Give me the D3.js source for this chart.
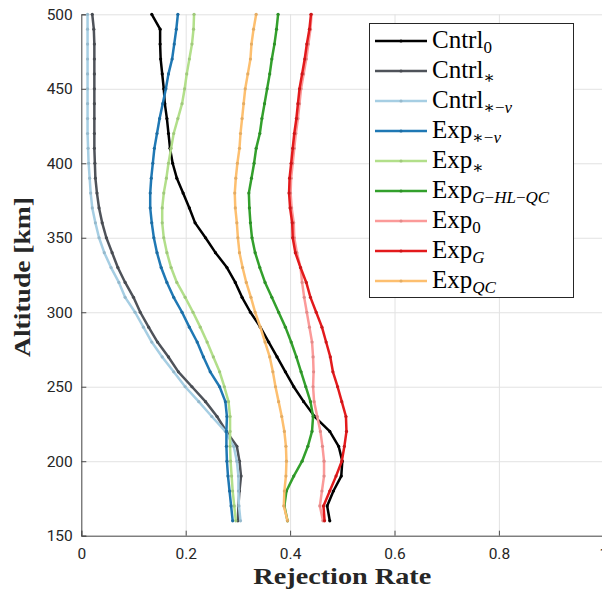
<!DOCTYPE html>
<html lang="en">
<head>
<meta charset="UTF-8">
<title>Rejection Rate vs Altitude</title>
<script src="https://d3js.org/d3.v7.min.js"></script>
<style>
  body { margin: 0; background: #fff; }
  svg { display: block; }
  .tick text { font-family: Roboto, "Liberation Sans", sans-serif; font-size: 15.5px; fill: #262626; }
  .label { font-family: "Liberation Serif", "DejaVu Serif", serif; font-weight: bold; fill: #262626; }
  .leg { font-family: "Liberation Serif", "DejaVu Serif", serif; fill: #000; }
</style>
</head>
<body>
<div id="chart"></div>
<script>
// altitudes, km (bottom to top)
const altitudes = [160, 170, 180, 190, 200, 210, 220, 230, 240, 250, 260, 270, 280, 290, 300, 310, 320,
  330, 340, 350, 360, 370, 380, 390, 400, 410, 420, 430, 440, 450, 460, 470, 480, 490, 500];

// rejection rates per run
const cntrl0 = [0.476, 0.471, 0.483, 0.498, 0.500, 0.493, 0.476, 0.447, 0.426, 0.407, 0.391, 0.375, 0.359, 0.343, 0.324, 0.308, 0.295,
  0.279, 0.257, 0.238, 0.218, 0.207, 0.195, 0.183, 0.175, 0.170, 0.167, 0.164, 0.160, 0.158, 0.155, 0.152, 0.151, 0.151, 0.135];
const cntrlStar = [0.300, 0.301, 0.303, 0.306, 0.303, 0.298, 0.278, 0.260, 0.238, 0.212, 0.186, 0.167, 0.146, 0.129, 0.113, 0.100, 0.084,
  0.070, 0.059, 0.048, 0.040, 0.034, 0.030, 0.027, 0.026, 0.025, 0.025, 0.025, 0.025, 0.025, 0.025, 0.025, 0.025, 0.024, 0.021];
const cntrlStarNu = [0.305, 0.302, 0.301, 0.301, 0.298, 0.292, 0.276, 0.250, 0.225, 0.199, 0.177, 0.155, 0.135, 0.119, 0.103, 0.084, 0.072,
  0.057, 0.044, 0.034, 0.027, 0.021, 0.018, 0.016, 0.014, 0.013, 0.012, 0.012, 0.012, 0.012, 0.012, 0.012, 0.012, 0.012, 0.012];
const expStarNu = [0.290, 0.287, 0.284, 0.281, 0.279, 0.278, 0.278, 0.279, 0.276, 0.265, 0.247, 0.234, 0.222, 0.207, 0.193, 0.177, 0.164,
  0.153, 0.145, 0.139, 0.135, 0.132, 0.132, 0.134, 0.137, 0.140, 0.145, 0.150, 0.156, 0.162, 0.167, 0.174, 0.178, 0.182, 0.185];
const expStar = [0.296, 0.293, 0.290, 0.288, 0.286, 0.285, 0.285, 0.285, 0.282, 0.274, 0.265, 0.253, 0.241, 0.228, 0.214, 0.199, 0.183,
  0.172, 0.164, 0.158, 0.155, 0.155, 0.158, 0.163, 0.167, 0.172, 0.177, 0.185, 0.193, 0.198, 0.202, 0.207, 0.212, 0.215, 0.216];
const expGHLQC = [0.395, 0.389, 0.393, 0.407, 0.423, 0.434, 0.442, 0.444, 0.439, 0.430, 0.421, 0.412, 0.402, 0.391, 0.378, 0.365, 0.352,
  0.342, 0.333, 0.327, 0.324, 0.322, 0.321, 0.326, 0.331, 0.335, 0.342, 0.346, 0.351, 0.356, 0.361, 0.365, 0.370, 0.374, 0.377];
const exp0 = [0.463, 0.457, 0.461, 0.465, 0.465, 0.462, 0.458, 0.452, 0.446, 0.444, 0.445, 0.444, 0.442, 0.437, 0.432, 0.427, 0.423,
  0.420, 0.413, 0.408, 0.407, 0.403, 0.401, 0.402, 0.405, 0.408, 0.411, 0.415, 0.418, 0.421, 0.426, 0.431, 0.435, 0.439, 0.441];
const expG = [0.466, 0.464, 0.476, 0.488, 0.499, 0.504, 0.508, 0.507, 0.499, 0.491, 0.482, 0.477, 0.469, 0.461, 0.450, 0.439, 0.431,
  0.420, 0.410, 0.405, 0.404, 0.400, 0.398, 0.399, 0.402, 0.405, 0.408, 0.412, 0.415, 0.418, 0.423, 0.428, 0.432, 0.437, 0.440];
const expQC = [0.395, 0.388, 0.389, 0.392, 0.393, 0.392, 0.389, 0.384, 0.378, 0.372, 0.367, 0.361, 0.352, 0.343, 0.333, 0.325, 0.316,
  0.309, 0.303, 0.300, 0.298, 0.295, 0.294, 0.296, 0.299, 0.303, 0.305, 0.308, 0.311, 0.314, 0.319, 0.324, 0.326, 0.330, 0.335];

// legend names: [main, subscript]
const seriesNames = [["Cntrl", "0"], ["Cntrl", "∗"], ["Cntrl", "∗−ν"], ["Exp", "∗−ν"], ["Exp", "∗"],
  ["Exp", "G−HL−QC"], ["Exp", "0"], ["Exp", "G"], ["Exp", "QC"]];
const seriesValues = [cntrl0, cntrlStar, cntrlStarNu, expStarNu, expStar, expGHLQC, exp0, expG, expQC];
const seriesColors = ["#000000", "#4f535a", "#a6cee3", "#1f78b4", "#b2df8a", "#33a02c", "#fb9a99", "#e31a1c", "#fdbf6f"];

const xTicks = [0, 0.2, 0.4, 0.6, 0.8, 1];
const yTicks = [150, 200, 250, 300, 350, 400, 450, 500];

const width = 602, height = 592;
const plotL = 81.3, plotR = 603.3, plotT = 14.3, plotB = 535.7;

const svg = d3.select("#chart").append("svg")
  .attr("width", width)
  .attr("height", height);

const x = d3.scaleLinear().domain([0, 1]).range([plotL, plotR]);
const y = d3.scaleLinear().domain([150, 500]).range([plotB, plotT]);

// grid
svg.append("g")
  .attr("transform", `translate(0,${plotB})`)
  .call(d3.axisBottom(x).tickValues(xTicks).tickSize(-(plotB - plotT)).tickFormat(""))
  .call(g => g.select(".domain").remove())
  .call(g => g.selectAll("line").attr("stroke", "#e2e2e2"));
svg.append("g")
  .attr("transform", `translate(${plotL},0)`)
  .call(d3.axisLeft(y).tickValues(yTicks).tickSize(-(plotR - plotL)).tickFormat(""))
  .call(g => g.select(".domain").remove())
  .call(g => g.selectAll("line").attr("stroke", "#e2e2e2"));

// axes
const xAxis = svg.append("g")
  .attr("transform", `translate(0,${plotB})`)
  .call(d3.axisBottom(x).tickValues(xTicks).tickSize(-5).tickPadding(12).tickFormat(d3.format("")));
const yAxis = svg.append("g")
  .attr("transform", `translate(${plotL},0)`)
  .call(d3.axisLeft(y).tickValues(yTicks).tickSize(-5).tickPadding(8.5));
[xAxis, yAxis].forEach(a => {
  a.select(".domain").attr("stroke", "#4d4d4d");
  a.selectAll(".tick line").attr("stroke", "#4d4d4d");
});

// lines
const line = d3.line()
  .x(d => x(d[0]))
  .y(d => y(d[1]));

seriesValues.forEach((vals, i) => {
  const pts = vals.map((v, j) => [v, altitudes[j]]);
  const g = svg.append("g");
  g.append("path")
    .datum(pts)
    .attr("fill", "none")
    .attr("stroke", seriesColors[i])
    .attr("stroke-width", 2.5)
    .attr("stroke-linejoin", "round")
    .attr("d", line);
  g.selectAll("circle")
    .data(pts)
    .enter().append("circle")
    .attr("cx", d => x(d[0]))
    .attr("cy", d => y(d[1]))
    .attr("r", 1.6)
    .attr("fill", d3.color(seriesColors[i]).darker(0.3));
});

// axis labels
svg.append("text")
  .attr("class", "label")
  .attr("x", (plotL + plotR) / 2)
  .attr("y", 584)
  .attr("text-anchor", "middle")
  .attr("font-size", 23)
  .attr("textLength", 178)
  .attr("lengthAdjust", "spacingAndGlyphs")
  .text("Rejection Rate");

svg.append("text")
  .attr("class", "label")
  .attr("transform", `translate(30,${(plotT + plotB) / 2 + 2}) rotate(-90)`)
  .attr("text-anchor", "middle")
  .attr("font-size", 23)
  .attr("textLength", 160)
  .attr("lengthAdjust", "spacingAndGlyphs")
  .text("Altitude [km]");

// legend
const legX = 369.5, legY = 23.5, legW = 204, legH = 274;
const legend = svg.append("g");
legend.append("rect")
  .attr("x", legX).attr("y", legY)
  .attr("width", legW).attr("height", legH)
  .attr("fill", "#fff")
  .attr("stroke", "#262626")
  .attr("stroke-width", 1);

seriesNames.forEach((nm, i) => {
  const cy = 41 + i * 30;
  legend.append("line")
    .attr("x1", 375).attr("x2", 427)
    .attr("y1", cy).attr("y2", cy)
    .attr("stroke", seriesColors[i])
    .attr("stroke-width", 2.5);
  legend.append("circle")
    .attr("cx", 401).attr("cy", cy).attr("r", 1.6)
    .attr("fill", d3.color(seriesColors[i]).darker(0.3));
  const t = legend.append("text")
    .attr("class", "leg")
    .attr("x", 432)
    .attr("y", cy + 7)
    .attr("font-size", 25);
  t.append("tspan").text(nm[0]);
  const sub = t.append("tspan")
    .attr("dy", 5)
    .attr("font-size", 17);
  // italic for letters in the subscript
  nm[1].split("").forEach(ch => {
    sub.append("tspan")
      .attr("font-style", /[A-Zν]/.test(ch) ? "italic" : "normal")
      .text(ch);
  });
});
</script>
</body>
</html>
